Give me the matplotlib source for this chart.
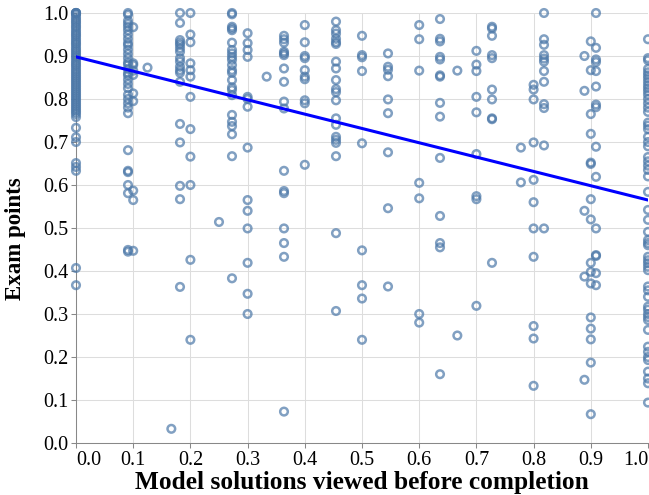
import matplotlib
matplotlib.use("Agg")
import matplotlib.pyplot as plt
import numpy as np

# share of model solutions viewed before completion (discrete levels seen in chart)
viewed_levels = [0.0, 1/11, 0.1, 1/8, 1/6, 2/11, 0.2, 1/4, 3/11, 0.3, 1/3, 4/11, 0.4,
                 5/11, 0.5, 6/11, 0.6, 7/11, 2/3, 0.7, 8/11, 7/9, 0.8, 9/11, 8/9, 0.9,
                 10/11, 1.0]

# exam points for each level
pts_0 = [1.0, 1.0, 1.0, 1.0, 0.996, 0.99, 0.985, 0.98, 0.976, 0.97, 0.966, 0.96, 0.955,
         0.95, 0.946, 0.94, 0.935, 0.93, 0.926, 0.92, 0.915, 0.91, 0.905, 0.9, 0.896,
         0.89, 0.885, 0.88, 0.876, 0.87, 0.865, 0.86, 0.855, 0.85, 0.845, 0.84, 0.835,
         0.83, 0.825, 0.82, 0.815, 0.81, 0.805, 0.8, 0.795, 0.79, 0.785, 0.78, 0.775,
         0.77, 0.765, 0.758, 0.733, 0.711, 0.70, 0.651, 0.642, 0.633, 0.407, 0.367]
pts_1_11 = [1.0, 0.996, 0.982, 0.975, 0.968, 0.96, 0.95, 0.94, 0.93, 0.925, 0.915, 0.905,
            0.895, 0.885, 0.88, 0.87, 0.86, 0.855, 0.845, 0.835, 0.825, 0.81, 0.8, 0.79,
            0.78, 0.767, 0.681, 0.633, 0.63, 0.60, 0.581, 0.449, 0.445]
pts_0_1 = [0.967, 0.883, 0.879, 0.866, 0.856, 0.813, 0.795, 0.587, 0.565, 0.447]
pts_1_8 = [0.873]
pts_1_6 = [0.033]
pts_2_11 = [1.0, 0.977, 0.937, 0.931, 0.926, 0.918, 0.91, 0.895, 0.887, 0.875, 0.867,
            0.861, 0.84, 0.742, 0.699, 0.598, 0.567, 0.363]
pts_0_2 = [1.0, 0.95, 0.932, 0.883, 0.867, 0.852, 0.805, 0.73, 0.666, 0.60, 0.426, 0.24]
pts_1_4 = [0.514]
pts_3_11 = [1.0, 0.997, 0.968, 0.964, 0.96, 0.931, 0.914, 0.906, 0.898, 0.891, 0.879,
            0.867, 0.861, 0.844, 0.827, 0.821, 0.809, 0.763, 0.747, 0.737, 0.718, 0.667,
            0.383]
pts_0_3 = [0.953, 0.93, 0.914, 0.898, 0.805, 0.80, 0.782, 0.687, 0.565, 0.540, 0.499,
           0.419, 0.347, 0.30]
pts_1_3 = [0.852]
pts_4_11 = [0.947, 0.939, 0.931, 0.91, 0.906, 0.902, 0.871, 0.84, 0.794, 0.778, 0.633,
            0.586, 0.581, 0.499, 0.465, 0.433, 0.073]
pts_0_4 = [0.972, 0.932, 0.9, 0.895, 0.867, 0.852, 0.846, 0.797, 0.79, 0.647]
pts_5_11 = [0.98, 0.96, 0.952, 0.94, 0.932, 0.928, 0.887, 0.871, 0.844, 0.823, 0.816,
            0.797, 0.755, 0.74, 0.712, 0.705, 0.698, 0.667, 0.488, 0.307]
pts_0_5 = [0.947, 0.902, 0.897, 0.865, 0.697, 0.448, 0.367, 0.336, 0.24]
pts_6_11 = [0.906, 0.875, 0.868, 0.853, 0.799, 0.767, 0.676, 0.546, 0.364]
pts_0_6 = [0.972, 0.939, 0.866, 0.605, 0.569, 0.30, 0.28]
pts_7_11 = [0.986, 0.94, 0.934, 0.898, 0.892, 0.855, 0.852, 0.791, 0.759, 0.663, 0.528,
            0.465, 0.455, 0.16]
pts_2_3 = [0.866, 0.25]
pts_0_7 = [0.912, 0.88, 0.865, 0.805, 0.769, 0.672, 0.574, 0.567, 0.319]
pts_8_11 = [0.968, 0.964, 0.947, 0.902, 0.895, 0.822, 0.799, 0.755, 0.753, 0.419]
pts_7_9 = [0.687, 0.606]
pts_0_8 = [0.833, 0.822, 0.799, 0.699, 0.612, 0.56, 0.499, 0.433, 0.272, 0.243, 0.133]
pts_9_11 = [1.0, 0.939, 0.926, 0.902, 0.894, 0.887, 0.865, 0.84, 0.788, 0.779, 0.692,
            0.499]
pts_8_9 = [0.90, 0.819, 0.54, 0.387, 0.147]
pts_0_9 = [0.934, 0.867, 0.765, 0.719, 0.652, 0.649, 0.567, 0.52, 0.419, 0.398, 0.371,
           0.292, 0.266, 0.241, 0.187, 0.067]
pts_10_11 = [1.0, 0.919, 0.892, 0.886, 0.865, 0.829, 0.787, 0.781, 0.689, 0.619, 0.499,
             0.437, 0.435, 0.395, 0.367]
pts_1 = [0.939, 0.895, 0.890, 0.870, 0.862, 0.855, 0.848, 0.840, 0.832, 0.825, 0.818,
         0.810, 0.800, 0.790, 0.780, 0.770, 0.745, 0.738, 0.730, 0.712, 0.700, 0.690,
         0.665, 0.655, 0.645, 0.635, 0.620, 0.584, 0.542, 0.519, 0.491, 0.472, 0.465,
         0.460, 0.433, 0.425, 0.418, 0.410, 0.402, 0.364, 0.355, 0.340, 0.317, 0.310,
         0.300, 0.293, 0.286, 0.263, 0.224, 0.212, 0.200, 0.193, 0.166, 0.150, 0.139,
         0.094]

columns = [pts_0, pts_1_11, pts_0_1, pts_1_8, pts_1_6, pts_2_11, pts_0_2, pts_1_4,
           pts_3_11, pts_0_3, pts_1_3, pts_4_11, pts_0_4, pts_5_11, pts_0_5, pts_6_11,
           pts_0_6, pts_7_11, pts_2_3, pts_0_7, pts_8_11, pts_7_9, pts_0_8, pts_9_11,
           pts_8_9, pts_0_9, pts_10_11, pts_1]

# fitted trend line end points
trend_x = [0.0, 1.0]
trend_y = [0.898, 0.565]

xs = np.concatenate([[lvl] * len(col) for lvl, col in zip(viewed_levels, columns)])
ys = np.concatenate(columns)

plt.rcParams['font.family'] = ['Liberation Serif', 'DejaVu Serif']

W, H = 649, 495
fig = plt.figure(figsize=(W / 100, H / 100), dpi=100)
ax = fig.add_axes([76 / W, 52 / H, 572 / W, 430 / H])

ax.scatter(xs, ys, s=30, facecolors='none', edgecolors='#4c78a8', linewidths=1.8,
           alpha=0.7, clip_on=False, zorder=3)
ax.plot(trend_x, trend_y, color='#0000ff', linewidth=2.2, zorder=4)

ax.set_xlim(0, 1)
ax.set_ylim(0, 1)
ticks = np.round(np.arange(0, 1.01, 0.1), 1)
ax.set_xticks(ticks)
ax.set_yticks(ticks)
ax.set_xticklabels([f'{t:.1f}' for t in ticks])
ax.set_yticklabels([f'{t:.1f}' for t in ticks])
labels = ax.get_xticklabels()
labels[0].set_horizontalalignment('left')
labels[-1].set_horizontalalignment('right')

ax.grid(True, color='#dddddd', linewidth=0.75)
ax.set_axisbelow(True)
for side in ['top', 'right']:
    ax.spines[side].set_visible(False)
for side in ['left', 'bottom']:
    ax.spines[side].set_color('#888888')
    ax.spines[side].set_linewidth(0.75)
ax.tick_params(colors='#888888', length=3.6, width=0.75, labelcolor='black',
               labelsize=14.5, pad=2)

ax.set_xlabel('Model solutions viewed before completion', fontsize=18.3,
              fontweight='bold', labelpad=1)
ax.set_ylabel('Exam points', fontsize=16.5, fontweight='bold')
ax.yaxis.set_label_coords(-0.087, 0.475)

fig.savefig('out.png', dpi=100)
